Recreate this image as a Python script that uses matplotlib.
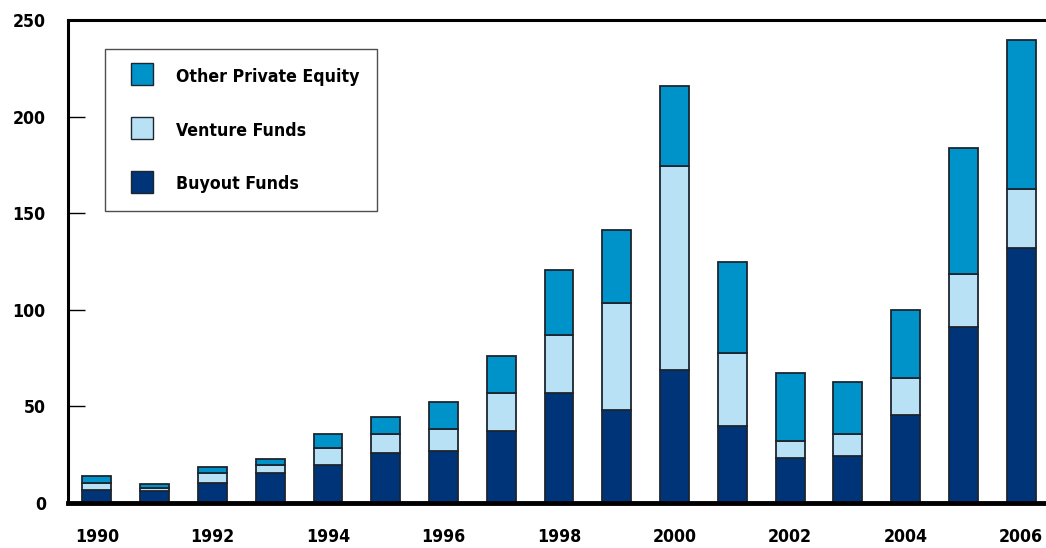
import numpy as np
import matplotlib.pyplot as plt
from matplotlib.lines import Line2D

# (USD billions)
years = np.arange(1990, 2007)
buyout = [6.7, 6.3, 10.5, 15.3, 19.9, 25.9, 27.1, 37.3, 56.9, 47.9, 68.9, 39.9, 23.2, 24.4, 45.5, 90.9, 132.0]
venture_top = [10.1, 7.6, 15.6, 19.6, 28.7, 35.9, 38.5, 56.9, 86.8, 103.6, 174.4, 77.7, 32.1, 35.9, 64.6, 118.7, 162.5]
total = [14.1, 10.0, 18.4, 23.0, 35.9, 44.5, 52.2, 75.9, 120.8, 141.1, 215.8, 124.7, 67.2, 62.5, 99.8, 184.0, 239.7]
venture = [v - b for v, b in zip(venture_top, buyout)]
other = [t - v for t, v in zip(total, venture_top)]

series_labels = ['Buyout Funds', 'Venture Funds', 'Other Private Equity']
colors = ['#003478', '#b9e1f6', '#0093c9']
yticks = [0, 50, 100, 150, 200, 250]
xtick_years = list(range(1990, 2007, 2))

plt.rcParams['font.family'] = ['DejaVu Sans']
plt.rcParams['font.stretch'] = 'condensed'
plt.rcParams['font.weight'] = 'bold'

fig = plt.figure(figsize=(10.46, 5.48), dpi=100)
ax = fig.add_axes([68 / 1046, 45 / 548, 978 / 1046, 483 / 548])

edge = '#1c2530'
ax.bar(years, buyout, width=0.5, color=colors[0], edgecolor=edge, linewidth=1.3)
ax.bar(years, venture, width=0.5, bottom=buyout, color=colors[1], edgecolor=edge, linewidth=1.3)
ax.bar(years, other, width=0.5, bottom=venture_top, color=colors[2], edgecolor=edge, linewidth=1.3)

ax.set_xlim(1989.5, 2006.43)
ax.set_ylim(0, 250)

ax.spines['right'].set_visible(False)
ax.spines['left'].set_linewidth(2.2)
ax.spines['top'].set_linewidth(2.2)
ax.spines['bottom'].set_linewidth(3.5)

ax.set_yticks(yticks)
ax.set_yticklabels([str(v) for v in yticks], fontsize=12.7, fontweight='bold')
ax.tick_params(axis='y', direction='in', length=12, width=1, pad=16)
ax.set_xticks(xtick_years)
ax.set_xticklabels([str(y) for y in xtick_years], fontsize=12.7, fontweight='bold')
ax.tick_params(axis='x', length=0, pad=18)

# legend: Other on top, Buyout at bottom
handles = [Line2D([], [], linestyle='none', marker='s', markersize=15.8,
                  markerfacecolor=c, markeredgecolor=edge, markeredgewidth=1.0)
           for c in colors[::-1]]
leg = ax.legend(handles, series_labels[::-1], loc='upper left',
                bbox_to_anchor=(0.0378, 0.94), prop={'weight': 'bold', 'size': 12.7, 'stretch': 'condensed'},
                frameon=True, fancybox=False, handlelength=2.2, handleheight=1.25,
                handletextpad=0.8, labelspacing=1.95, borderpad=1.0, borderaxespad=0)
leg.get_frame().set_edgecolor('#222222')
leg.get_frame().set_linewidth(1.0)

fig.savefig('out.png', dpi=100)
